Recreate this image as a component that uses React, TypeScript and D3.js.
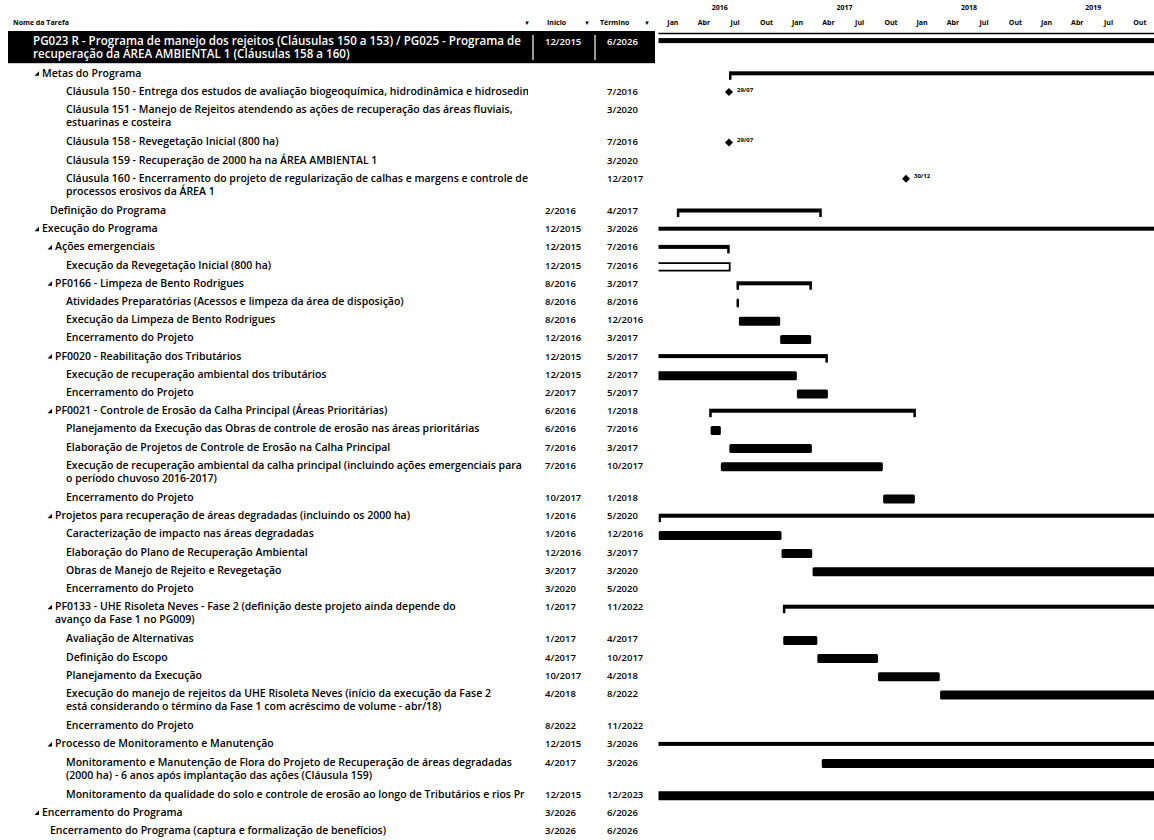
import React from "react";
import * as d3 from "d3";

// ---------- DATA ----------
const taskNames = [
  "PG023 R - Programa de manejo dos rejeitos (Cláusulas 150 a 153) / PG025 - Programa de\nrecuperação da ÁREA AMBIENTAL 1 (Cláusulas 158 a 160)",
  "Metas do Programa",
  "Cláusula 150 - Entrega dos estudos de avaliação biogeoquímica, hidrodinâmica e hidrosedim",
  "Cláusula 151 - Manejo de Rejeitos atendendo as ações de recuperação das áreas fluviais,\nestuarinas e costeira",
  "Cláusula 158 - Revegetação Inicial (800 ha)",
  "Cláusula 159 - Recuperação de 2000 ha na ÁREA AMBIENTAL 1",
  "Cláusula 160 - Encerramento do projeto de regularização de calhas e margens e controle de\nprocessos erosivos da ÁREA 1",
  "Definição do Programa",
  "Execução do Programa",
  "Ações emergenciais",
  "Execução da Revegetação Inicial (800 ha)",
  "PF0166 - Limpeza de Bento Rodrigues",
  "Atividades Preparatórias (Acessos e limpeza da área de disposição)",
  "Execução da Limpeza de Bento Rodrigues",
  "Encerramento do Projeto",
  "PF0020 - Reabilitação dos Tributários",
  "Execução de recuperação ambiental dos tributários",
  "Encerramento do Projeto",
  "PF0021 - Controle de Erosão da Calha Principal (Áreas Prioritárias)",
  "Planejamento da Execução das Obras de controle de erosão nas áreas prioritárias",
  "Elaboração de Projetos de Controle de Erosão na Calha Principal",
  "Execução de recuperação ambiental da calha principal (incluindo ações emergenciais para\no período chuvoso 2016-2017)",
  "Encerramento do Projeto",
  "Projetos para recuperação de áreas degradadas (incluindo os 2000 ha)",
  "Caracterização de impacto nas áreas degradadas",
  "Elaboração do Plano de Recuperação Ambiental",
  "Obras de Manejo de Rejeito e Revegetação",
  "Encerramento do Projeto",
  "PF0133 - UHE Risoleta Neves - Fase 2 (definição deste projeto ainda depende do\navanço da Fase 1 no PG009)",
  "Avaliação de Alternativas",
  "Definição do Escopo",
  "Planejamento da Execução",
  "Execução do manejo de rejeitos da UHE Risoleta Neves (início da execução da Fase 2\nestá considerando o término da Fase 1 com acréscimo de volume - abr/18)",
  "Encerramento do Projeto",
  "Processo de Monitoramento e Manutenção",
  "Monitoramento e Manutenção de Flora do Projeto de Recuperação de áreas degradadas\n(2000 ha) - 6 anos após implantação das ações (Cláusula 159)",
  "Monitoramento da qualidade do solo e controle de erosão ao longo de Tributários e rios Pr",
  "Encerramento do Programa",
  "Encerramento do Programa (captura e formalização de benefícios)",
];

// outline indent step of each row (0 = top summary)
const outlineIndent = [0, 1, 4, 4, 4, 4, 4, 2, 1, 3, 4, 3, 4, 4, 4, 3, 4, 4, 3, 4, 4, 4, 4, 3, 4, 4, 4, 4, 3, 4, 4, 4, 4, 4, 3, 4, 4, 1, 2];
const hasToggle = [false, true, false, false, false, false, false, false, true, true, false, true, false, false, false, true, false, false, true, false, false, false, false, true, false, false, false, false, true, false, false, false, false, false, true, false, false, true, false];

const startText = [
  "12/2015", "", "", "", "", "", "", "2/2016", "12/2015", "12/2015", "12/2015", "8/2016", "8/2016", "8/2016",
  "12/2016", "12/2015", "12/2015", "2/2017", "6/2016", "6/2016", "7/2016", "7/2016", "10/2017", "1/2016",
  "1/2016", "12/2016", "3/2017", "3/2020", "1/2017", "1/2017", "4/2017", "10/2017", "4/2018", "8/2022",
  "12/2015", "4/2017", "12/2015", "3/2026", "3/2026",
];
const finishText = [
  "6/2026", "", "7/2016", "3/2020", "7/2016", "3/2020", "12/2017", "4/2017", "3/2026", "7/2016", "7/2016",
  "3/2017", "8/2016", "12/2016", "3/2017", "5/2017", "2/2017", "5/2017", "1/2018", "7/2016", "3/2017",
  "10/2017", "1/2018", "5/2020", "12/2016", "3/2017", "3/2020", "5/2020", "11/2022", "4/2017", "10/2017",
  "4/2018", "8/2022", "11/2022", "3/2026", "3/2026", "12/2023", "6/2026", "6/2026",
];

const barKind = [
  "summary", "summary", "milestone", "milestone", "milestone", "milestone", "milestone", "summary", "summary",
  "summary", "outline", "summary", "task", "task", "task", "summary", "task", "task", "summary", "task", "task",
  "task", "task", "summary", "task", "task", "task", "task", "summary", "task", "task", "task", "task", "task",
  "summary", "task", "task", "summary", "task",
];
const barStart = [
  "2015-12-07", "2016-07-29", "2016-07-29", "2020-03-31", "2016-07-29", "2020-03-31", "2017-12-30", "2016-02-27",
  "2015-12-07", "2015-12-07", "2015-12-07", "2016-08-20", "2016-08-20", "2016-08-27", "2016-12-26", "2015-12-07",
  "2015-12-07", "2017-02-13", "2016-06-01", "2016-06-05", "2016-07-30", "2016-07-05", "2017-10-24", "2016-01-04",
  "2016-01-04", "2016-12-30", "2017-03-31", "2020-03-27", "2017-01-03", "2017-01-04", "2017-04-14", "2017-10-09",
  "2018-04-09", "2022-08-26", "2015-12-07", "2017-04-27", "2015-12-07", "2026-03-27", "2026-03-27",
];
const barEnd = [
  "2026-06-15", "2020-03-31", "2016-07-29", "2020-03-31", "2016-07-29", "2020-03-31", "2017-12-30", "2017-04-27",
  "2026-03-27", "2016-07-31", "2016-07-31", "2017-03-29", "2016-08-26", "2016-12-26", "2017-03-27", "2017-05-15",
  "2017-02-13", "2017-05-15", "2018-01-28", "2016-07-05", "2017-03-29", "2017-10-23", "2018-01-25", "2020-05-29",
  "2016-12-30", "2017-03-30", "2020-03-27", "2020-05-29", "2022-11-25", "2017-04-14", "2017-10-09", "2018-04-08",
  "2022-08-26", "2022-11-25", "2026-03-27", "2026-03-27", "2023-12-15", "2026-06-15", "2026-06-15",
];
const milestoneLabels = ["", "", "29/07", "31/03", "29/07", "31/03", "30/12"];

const yearTicks = ["2016", "2017", "2018", "2019"];
const quarterTicks = ["Jan", "Abr", "Jul", "Out"];

// ---------- CHART ----------
const W = 1154;
const H = 840;
const FONT = "'Open Sans', 'DejaVu Sans', sans-serif";
const indentPx = [33, 42, 50, 55, 66];

export default function App() {
  const parse = d3.timeParse("%Y-%m-%d");
  const x = d3
    .scaleTime()
    .domain([new Date(2016, 0, 1), new Date(2020, 0, 1)])
    .range([657.4, 657.4 + 1461 * 0.341]);
  const ganttLeft = 658.5;
  const inView = (v: number) => v >= ganttLeft - 4 && v <= W - 30;

  const lines = taskNames.map((n) => n.split("\n"));
  const heights = lines.map((l) => (l.length > 1 ? 32.2 : 18.2));
  const tops = [32, ...Array.from(d3.cumsum(heights)).map((v) => 32 + v)];
  const centers = tops.slice(0, taskNames.length).map((t) => t + 9.1);

  const bars: React.ReactNode[] = [];
  barKind.forEach((kind, i) => {
    const c = centers[i];
    const s = parse(barStart[i])!;
    const e = parse(barEnd[i])!;
    const x1 = x(s);
    const x2 = x(e);
    if (kind === "summary") {
      const th = i === 0 ? 5 : 4;
      const top = i === 0 ? c - 3 : c - 2;
      bars.push(
        <g key={"b" + i}>
          <rect x={x1} y={top} width={Math.max(1, x2 - x1)} height={th} fill="#000" />
          <rect x={x1} y={top + th - 0.5} width={2.5} height={5} fill="#000" />
          <rect x={x2 - 2.5} y={top + th - 0.5} width={2.5} height={5} fill="#000" />
        </g>
      );
    } else if (kind === "task") {
      bars.push(
        <rect key={"b" + i} x={x1} y={c - 3} width={Math.max(2.5, x2 - x1)} height={9} rx={1.5} fill="#000" />
      );
    } else if (kind === "outline") {
      bars.push(
        <rect key={"b" + i} x={x1} y={c - 2} width={x2 - x1} height={7.5} fill="#fff" stroke="#000" strokeWidth={1.8} />
      );
    } else if (kind === "milestone" && inView(x1)) {
      const cx = x1;
      const cy = c + 0.5;
      bars.push(
        <g key={"b" + i}>
          <path d={`M${cx},${cy - 4} L${cx + 4},${cy} L${cx},${cy + 4} L${cx - 4},${cy} Z`} fill="#000" />
          <text x={cx + 8} y={cy - 0.5} fontSize={6} fontWeight={700} fontFamily={FONT} fill="#000">
            {milestoneLabels[i]}
          </text>
        </g>
      );
    }
  });

  const quarterLabels: React.ReactNode[] = [];
  yearTicks.forEach((y) => {
    quarterTicks.forEach((q, qi) => {
      const a = x(new Date(+y, qi * 3, 1));
      const b = x(new Date(+y, qi * 3 + 3, 1));
      quarterLabels.push(
        <text key={y + q} x={(a + b) / 2} y={25} textAnchor="middle" fontSize={7} fontWeight={700} fontFamily={FONT}>
          {q}
        </text>
      );
    });
  });

  return (
    <svg width={W} height={H} style={{ position: "absolute", left: 0, top: 0, background: "#fff" }}>
      <defs>
        <clipPath id="nameClip">
          <rect x={0} y={0} width={528} height={H} />
        </clipPath>
        <clipPath id="ganttClip">
          <rect x={ganttLeft} y={0} width={W - ganttLeft} height={H} />
        </clipPath>
      </defs>
      <rect width={W} height={H} fill="#fff" />

      {/* header */}
      <g fontFamily={FONT} fontWeight={700} fontSize={7} fill="#000">
        <text x={13} y={25}>Nome da Tarefa</text>
        <text x={527} y={25} textAnchor="middle">▾</text>
        <text x={547} y={25}>Início</text>
        <text x={587} y={25} textAnchor="middle">▾</text>
        <text x={600} y={25}>Término</text>
        <text x={647} y={25} textAnchor="middle">▾</text>
        {yearTicks.map((y) => (
          <text key={y} x={(x(new Date(+y, 0, 1)) + x(new Date(+y + 1, 0, 1))) / 2} y={10} textAnchor="middle">
            {y}
          </text>
        ))}
        <g clipPath="url(#ganttClip)">{quarterLabels}</g>
      </g>

      {/* selected row */}
      <rect x={8} y={tops[0] - 1} width={647} height={heights[0]} fill="#000" />
      <line x1={533} x2={533} y1={tops[0] + 3} y2={tops[0] + 28} stroke="#fff" strokeWidth={1.2} />
      <line x1={595} x2={595} y1={tops[0] + 3} y2={tops[0] + 28} stroke="#fff" strokeWidth={1.2} />
      <line x1={ganttLeft} x2={W} y1={tops[0] + 1.5} y2={tops[0] + 1.5} stroke="#000" strokeWidth={1.5} />

      {/* table */}
      <g fontFamily={FONT} fontWeight={600}>
        {taskNames.map((_, i) => {
          const c = centers[i];
          const fill = i === 0 ? "#fff" : "#000";
          const tx = indentPx[outlineIndent[i]];
          const fs = i === 0 ? 11.6 : 10.5;
          return (
            <g key={"r" + i} fill={fill}>
              {hasToggle[i] && (
                <path d={`M${tx - 3},${c - 2} L${tx - 3},${c + 2.5} L${tx - 7.5},${c + 2.5} Z`} fill={fill} />
              )}
              <g clipPath="url(#nameClip)" fontSize={fs}>
                {lines[i].map((ln, li) => (
                  <text key={li} x={tx} y={c + 3.5 + li * 13}>
                    {ln}
                  </text>
                ))}
              </g>
              <g fontSize={9.5}>
                <text x={545} y={c + 3.5}>{startText[i]}</text>
                <text x={607} y={c + 3.5}>{finishText[i]}</text>
              </g>
            </g>
          );
        })}
      </g>

      {/* gantt */}
      <g clipPath="url(#ganttClip)">{bars}</g>
    </svg>
  );
}
